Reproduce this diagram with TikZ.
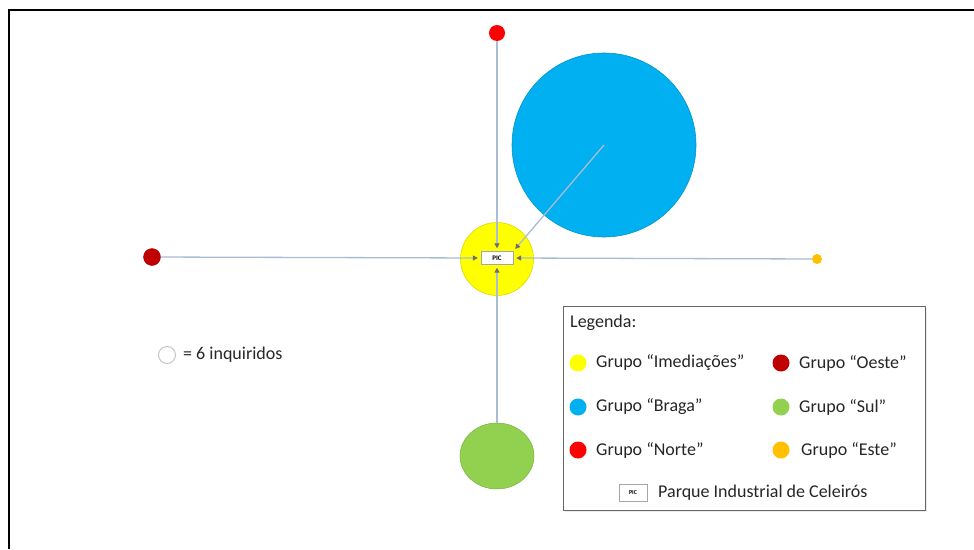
\documentclass[tikz,border=0pt]{standalone}
\usepackage{fontspec}
\setmainfont{Carlito}
\usetikzlibrary{arrows.meta,shapes.geometric,shadows}
\definecolor{cYel}{HTML}{FFFF00}
\definecolor{cBlue}{HTML}{00B0F0}
\definecolor{cRed}{HTML}{FF0000}
\definecolor{cDRed}{HTML}{C00000}
\definecolor{cGreen}{HTML}{92D050}
\definecolor{cOra}{HTML}{FFC000}
\definecolor{lineC}{HTML}{A9BCD4}
\definecolor{arrC}{HTML}{6E6E6E}
\definecolor{txtC}{HTML}{262626}
\begin{document}
\begin{tikzpicture}[x=1pt,y=-1pt,
  dot/.style={circle,inner sep=0pt},
  ldot/.style={circle,inner sep=0pt,minimum size=17pt},
  txt/.style={anchor=west,inner sep=0pt,text=txtC,font=\fontsize{18}{20}\selectfont},
  picbox/.style={draw=gray!70,fill=white,minimum width=32pt,minimum height=13pt,inner sep=0pt,font=\fontsize{7}{7}\selectfont\bfseries},
  conn/.style={draw=lineC,line width=1.3pt,-{Triangle[length=5pt,width=5pt,color=arrC]},shorten >=3pt}
]
\useasboundingbox (0,0) rectangle (974,549);
\fill[white] (0,0) rectangle (974,549);
\draw[line width=2pt] (9,549) -- (9,10) -- (974,10);

% group circles
\node[dot,fill=cBlue,draw=cBlue!85!black,line width=0.6pt,minimum size=184pt] (braga) at (604,145) {};
\node[dot,fill=cYel,draw=cYel!85!black,line width=0.6pt,minimum size=73pt] (imed) at (497,259) {};
\node[dot,fill=cRed,minimum size=16pt] (norte) at (497,33) {};
\node[dot,fill=cDRed,draw=cDRed!80!black,line width=0.4pt,minimum size=17pt] (oeste) at (152,257) {};
\node[dot,fill=cOra,minimum size=10pt] (este) at (817,259) {};
\node[ellipse,inner sep=0pt,fill=cGreen,draw=cGreen!85!black,line width=0.5pt,minimum width=74pt,minimum height=66pt] (sul) at (497,456) {};
\node[picbox] (pic) at (497,258) {PIC};

% connectors
\draw[conn] (norte) -- (pic.north);
\draw[conn] (oeste) -- (pic.west);
\draw[conn] (este) -- (pic.east);
\draw[conn] (sul) -- (pic.south);
\draw[conn] (braga.center) -- (pic.north east);

% scale note
\node[ldot,draw=gray!45,fill=white,line width=1pt] (unit) at (167,355) {};
\node[txt] (unitlbl) at (183,355) {= 6 inquiridos};

% legend
\node[draw=gray!80!black,line width=1pt,fill=white,minimum width=362pt,minimum height=204pt,anchor=north west,inner sep=0pt,
  drop shadow={opacity=0.15,shadow xshift=1.5pt,shadow yshift=-1.5pt}] (legend) at (563,306) {};
\node[txt] (leglbl) at (570,323) {Legenda:};
\node[ldot,fill=cYel] (l1) at (578,363) {};
\node[txt] (t1) at (596,363) {Grupo “Imediações”};
\node[ldot,fill=cBlue] (l2) at (578,407) {};
\node[txt] (t2) at (596,407) {Grupo “Braga”};
\node[ldot,fill=cRed] (l3) at (578,450) {};
\node[txt] (t3) at (596,450) {Grupo “Norte”};
\node[ldot,fill=cDRed] (l4) at (781,363) {};
\node[txt] (t4) at (799,363) {Grupo “Oeste”};
\node[ldot,fill=cGreen] (l5) at (781,407) {};
\node[txt] (t5) at (799,407) {Grupo “Sul”};
\node[ldot,fill=cOra] (l6) at (781,450) {};
\node[txt] (t6) at (801,450) {Grupo “Este”};
\node[picbox,minimum width=28pt,minimum height=17pt,font=\fontsize{6}{6}\selectfont\bfseries] (lpic) at (633,493) {PIC};
\node[txt] (t7) at (658,493) {Parque Industrial de Celeirós};
\end{tikzpicture}
\end{document}
